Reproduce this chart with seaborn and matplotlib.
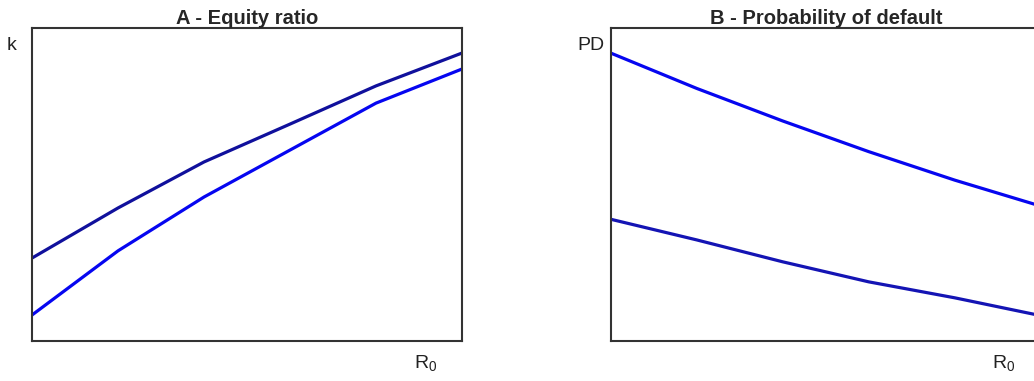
import matplotlib
matplotlib.use("Agg")
import matplotlib.pyplot as plt
import seaborn as sns
import pandas as pd

# R0 grid (arbitrary units, 6 evaluation points)
r0 = [0, 1, 2, 3, 4, 5]

# Panel A - equity ratio k (normalised)
k_high = [0.265, 0.425, 0.572, 0.693, 0.815, 0.920]
k_low = [0.083, 0.288, 0.460, 0.610, 0.760, 0.869]

# Panel B - probability of default (normalised)
pd_high = [0.920, 0.807, 0.703, 0.605, 0.514, 0.431]
pd_low = [0.389, 0.323, 0.253, 0.189, 0.138, 0.081]

dark_blue = "#10109C"
bright_blue = "#0606F0"

sns.set_theme(style="white")
plt.rcParams["font.family"] = ["Liberation Sans", "DejaVu Sans"]
plt.rcParams["mathtext.fontset"] = "custom"
plt.rcParams["mathtext.rm"] = "Liberation Sans"

fig = plt.figure(figsize=(10.34, 3.81), dpi=100)
ax_a = fig.add_axes([32 / 1034, 40 / 381, 430 / 1034, 313 / 381])
ax_b = fig.add_axes([610.7 / 1034, 40 / 381, 430 / 1034, 313 / 381])

df_a = pd.DataFrame({"R0": r0 * 2, "k": k_high + k_low,
                     "series": ["high"] * 6 + ["low"] * 6})
df_b = pd.DataFrame({"R0": r0 * 2, "PD": pd_high + pd_low,
                     "series": ["high"] * 6 + ["low"] * 6})

sns.lineplot(data=df_a, x="R0", y="k", hue="series",
             palette={"high": dark_blue, "low": bright_blue},
             linewidth=2.3, legend=False, ax=ax_a)
sns.lineplot(data=df_b, x="R0", y="PD", hue="series",
             palette={"high": bright_blue, "low": "#1414B4"},
             linewidth=2.3, legend=False, ax=ax_b)

for ax, title, ylab in [(ax_a, "A - Equity ratio", "k"),
                        (ax_b, "B - Probability of default", "PD")]:
    ax.set_xlim(0, 5)
    ax.set_ylim(0, 1)
    ax.set_xticks([])
    ax.set_yticks([])
    ax.set_xlabel("")
    ax.set_ylabel("")
    for s in ax.spines.values():
        s.set_color("#333333")
        s.set_linewidth(1.5)
    ax.set_title(title, fontsize=14.5, fontweight="bold", pad=3)
    # y label sits above the axis, centred ~20px left of the frame
    ax.text(-0.047, 0.972, ylab, transform=ax.transAxes, ha="center",
            va="top", fontsize=14, color="#222222")
    ax.text(0.942, -0.04, "R$_{0}$", transform=ax.transAxes, ha="right",
            va="top", fontsize=14, color="#222222")

fig.savefig("out.png", dpi=100)
